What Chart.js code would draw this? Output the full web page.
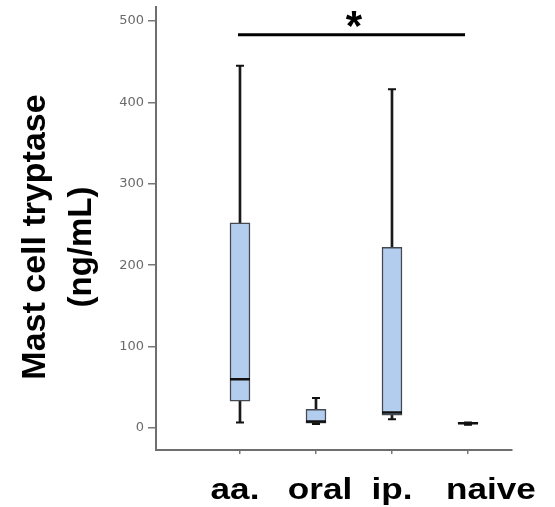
<!DOCTYPE html>
<html>
<head>
<meta charset="utf-8">
<script src="https://cdn.jsdelivr.net/npm/chart.js@4"></script>
<style>
  html, body { margin: 0; padding: 0; background: #fff; }
  #wrap { width: 555px; height: 507px; }
</style>
</head>
<body>
<div id="wrap"><canvas id="chart"></canvas></div>
<script>
// data
const groups = ['aa.', 'oral', 'ip.', 'naive'];
const mins = [7, 5, 11, 4];
const q1s = [33, 6, 16, 5];
const medians = [60, 8, 19, 6];
const q3s = [252, 23, 222, 7];
const maxs = [445, 37, 416, 7];
const yTicks = [0, 100, 200, 300, 400, 500];
const yTitle = ['Mast cell tryptase', '(ng/mL)'];
const sigFrom = 0, sigTo = 3, sigLevel = 483, sigMark = '*';

// small nudges for the bottom labels (the figure has them hand placed)
const labelShift = [-5, 4, 0, 23];

const idx = groups.map((g, i) => i);

// draws the group names, the y title and the significance bar
const extras = {
  id: 'extras',
  afterDraw(chart) {
    const ctx = chart.ctx;
    const x = chart.scales.x, y = chart.scales.y;
    ctx.save();
    ctx.fillStyle = '#000';

    // group labels under the axis
    ctx.font = 'bold 30px "Liberation Sans", Arial, sans-serif';
    ctx.textAlign = 'center';
    ctx.textBaseline = 'alphabetic';
    groups.forEach((g, i) => {
      ctx.save();
      ctx.translate(x.getPixelForValue(i) + labelShift[i], 499);
      ctx.scale(1.17, 1);
      ctx.fillText(g, 0, 0);
      ctx.restore();
    });

    // y title, two lines, rotated
    ctx.save();
    ctx.translate(45, 237);
    ctx.rotate(-Math.PI / 2);
    ctx.font = 'bold 34px "Liberation Sans", Arial, sans-serif';
    ctx.fillText(yTitle[0], 0, 0);
    ctx.restore();
    ctx.save();
    ctx.translate(91, 247);
    ctx.rotate(-Math.PI / 2);
    ctx.font = 'bold 33px "Liberation Sans", Arial, sans-serif';
    ctx.fillText(yTitle[1], 0, 0);
    ctx.restore();

    // significance bar and star
    const sy = y.getPixelForValue(sigLevel);
    const x1 = x.getPixelForValue(sigFrom), x2 = x.getPixelForValue(sigTo);
    ctx.strokeStyle = '#000';
    ctx.lineWidth = 3;
    ctx.beginPath();
    ctx.moveTo(x1 - 2, sy);
    ctx.lineTo(x2 - 3, sy);
    ctx.stroke();
    ctx.font = 'bold 42px "Liberation Sans", Arial, sans-serif';
    ctx.fillText(sigMark, (x1 + x2) / 2, sy + 5);
    ctx.restore();
  }
};

new Chart(document.getElementById('chart'), {
  type: 'bar',
  data: {
    datasets: [
      {
        // whisker stems
        data: idx.map(i => ({ x: i, y: [mins[i], maxs[i]] })),
        backgroundColor: '#1a1a1a',
        barThickness: 2,
        grouped: false,
        order: 3
      },
      {
        // boxes
        data: idx.map(i => ({ x: i, y: [q1s[i], q3s[i]] })),
        backgroundColor: '#b2cdee',
        borderColor: '#454a52',
        borderWidth: 1.5,
        borderSkipped: false,
        barThickness: 20,
        grouped: false,
        order: 2
      },
      {
        // medians
        type: 'line',
        showLine: false,
        data: idx.map(i => ({ x: i, y: medians[i] })),
        pointStyle: 'line',
        pointRadius: 10,
        pointBorderWidth: 2.5,
        pointBorderColor: '#111',
        order: 1
      },
      {
        // whisker caps
        type: 'line',
        showLine: false,
        data: idx.map(i => ({ x: i, y: mins[i] })).concat(idx.map(i => ({ x: i, y: maxs[i] }))),
        pointStyle: 'line',
        pointRadius: 4,
        pointBorderWidth: 2,
        pointBorderColor: '#111',
        order: 0
      }
    ]
  },
  options: {
    responsive: true,
    maintainAspectRatio: false,
    animation: false,
    events: [],
    layout: { autoPadding: false, padding: { left: 0, right: 43, top: 2, bottom: 0 } },
    plugins: { legend: { display: false }, tooltip: { enabled: false } },
    scales: {
      x: {
        type: 'linear',
        offset: false,
        min: -1.105,
        max: 3.579,
        afterBuildTicks: s => { s.ticks = idx.map(v => ({ value: v })); },
        afterFit: s => { s.height = 57; },
        grid: { offset: false, drawOnChartArea: false, drawTicks: true, tickLength: 4, color: '#777', lineWidth: 1.5 },
        border: { display: true, color: '#6e6e6e', width: 2 },
        ticks: { display: false }
      },
      y: {
        min: -26.9,
        max: 517.6,
        afterBuildTicks: s => { s.ticks = yTicks.map(v => ({ value: v })); },
        afterFit: s => { s.width = 156; },
        grid: { drawOnChartArea: false, drawTicks: true, tickLength: 8, color: '#777', lineWidth: 1.5 },
        border: { display: true, color: '#6e6e6e', width: 2 },
        ticks: {
          padding: 4,
          color: '#6a6a6a',
          font: { family: '"DejaVu Sans", sans-serif', size: 13, lineHeight: 0.4 }
        }
      }
    }
  },
  plugins: [extras]
});
</script>
</body>
</html>
